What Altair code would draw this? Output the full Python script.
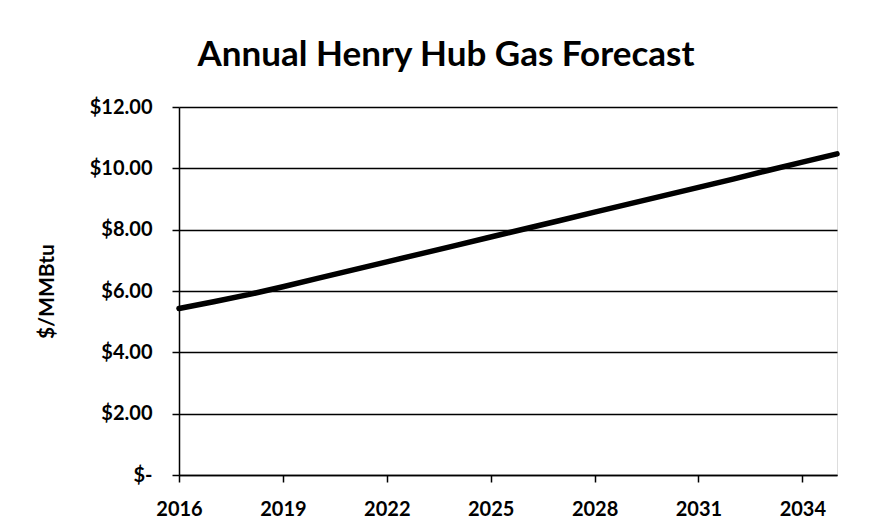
import altair as alt
import pandas as pd

years = list(range(2016, 2036))
prices = [5.43, 5.65, 5.88, 6.14, 6.41, 6.68, 6.95, 7.22, 7.49, 7.76,
          8.03, 8.30, 8.57, 8.84, 9.11, 9.38, 9.65, 9.93, 10.20, 10.47]
x_ticks = [2016, 2019, 2022, 2025, 2028, 2031, 2034]
y_ticks = [0, 2, 4, 6, 8, 10, 12]

df = pd.DataFrame({"Year": years, "Price": prices})

FONT = "Lato"

chart = alt.Chart(df).mark_line(color="black", strokeWidth=5.5, strokeCap="round").encode(
    x=alt.X("Year:Q",
            scale=alt.Scale(domain=[2016, 2035], nice=False, zero=False),
            axis=alt.Axis(values=x_ticks, format="d", title=None, grid=False,
                          labelFont=FONT, labelFontSize=20, labelFontWeight="bold",
                          labelColor="black", tickColor="black", tickSize=7,
                          tickWidth=1.5, domainColor="black", domainWidth=1.5,
                          labelPadding=17, labelFlush=False)),
    y=alt.Y("Price:Q",
            scale=alt.Scale(domain=[0, 12], nice=False),
            axis=alt.Axis(values=y_ticks, title="$/MMBtu",
                          labelExpr="datum.value == 0 ? '$-\u00a0\u00a0\u00a0' : '$' + format(datum.value, '.2f')",
                          labelFont=FONT, labelFontSize=20, labelFontWeight="bold",
                          labelColor="black", labelPadding=20,
                          tickColor="black", tickSize=7, tickWidth=1.5,
                          domainColor="black", domainWidth=1.5,
                          grid=True, gridColor="black", gridWidth=1.5, gridOpacity=1,
                          titleFont=FONT, titleFontSize=21, titleFontWeight="bold",
                          titleColor="black", titlePadding=32)),
).properties(
    width=658,
    height=368,
    title=alt.TitleParams("Annual Henry Hub Gas Forecast", font=FONT, fontSize=35,
                          fontWeight="bold", color="black", anchor="middle",
                          frame="group", dx=-62, offset=24),
    autosize=alt.AutoSizeParams(type="none"),
    padding={"left": 179, "top": 107, "right": 40, "bottom": 56},
).configure_view(stroke=None).configure(background="white")

chart.save("out.html", embed_options={"renderer": "svg", "actions": False})
